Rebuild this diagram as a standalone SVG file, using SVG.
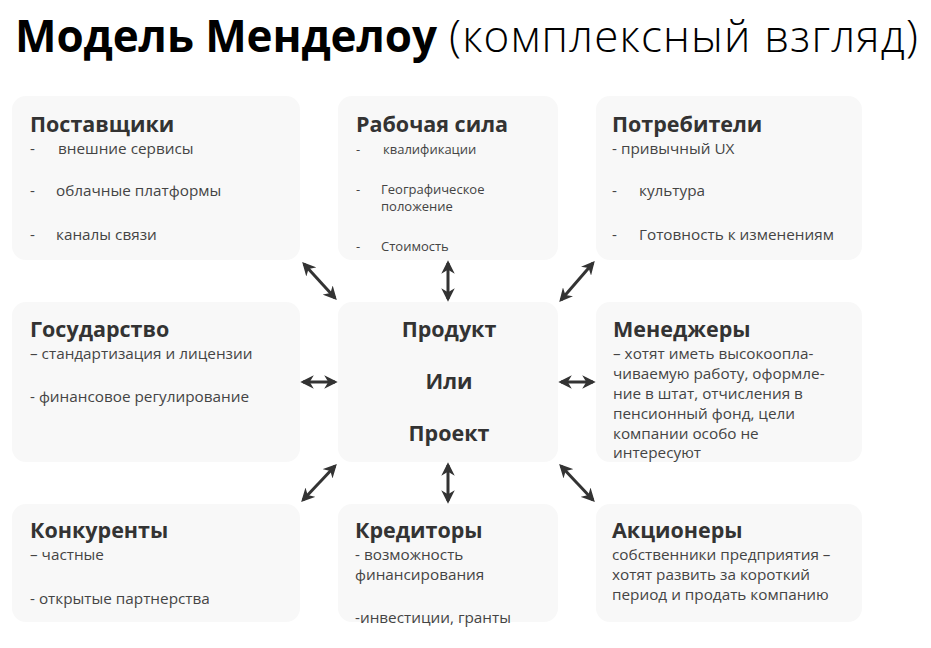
<svg xmlns="http://www.w3.org/2000/svg" width="931" height="648" viewBox="0 0 931 648">
<style>
.box{fill:#f8f8f8}
.h{font-family:"Open Sans","Noto Sans",sans-serif;font-weight:700;font-size:21.5px;fill:#333}
.t{font-family:"Open Sans","Noto Sans",sans-serif;font-size:15.3px;fill:#444}
.s{font-family:"Open Sans","Noto Sans",sans-serif;font-size:13px;fill:#444}
.c{text-anchor:middle}
.ar{stroke:#333;stroke-width:3;fill:none;marker-start:url(#ah);marker-end:url(#ah)}
</style>
<defs>
<marker id="ah" viewBox="0 0 10 10" refX="8" refY="5" markerWidth="4.5" markerHeight="4.5" orient="auto-start-reverse" markerUnits="strokeWidth">
<path d="M0,0 L10,5 L0,10 L3,5 Z" fill="#333"/>
</marker>
</defs>
<rect width="931" height="648" fill="#fff"/>
<text x="15" y="52" font-family="'Open Sans','Noto Sans',sans-serif" font-size="44" fill="#000" font-weight="700" textLength="422">Модель Менделоу</text>
<text x="449" y="52" font-family="'Open Sans','Noto Sans',sans-serif" font-size="44" fill="#000" font-weight="300" textLength="469">(комплексный взгляд)</text>

<g id="suppliers">
<rect class="box" x="12" y="96" width="288" height="164" rx="14"/>
<text class="h" x="30" y="132">Поставщики</text>
<text class="t" x="30" y="154">-</text><text class="t" x="58" y="154">внешние сервисы</text>
<text class="t" x="30" y="196">-</text><text class="t" x="56" y="196">облачные платформы</text>
<text class="t" x="30" y="240">-</text><text class="t" x="56" y="240">каналы связи</text>
</g>
<g id="labor">
<rect class="box" x="338" y="96" width="220" height="164" rx="14"/>
<text class="h" x="356" y="132">Рабочая сила</text>
<text class="s" x="356" y="154">-</text><text class="s" x="383" y="154">квалификации</text>
<text class="s" x="356" y="194">-</text><text class="s" x="381" y="194">Географическое</text>
<text class="s" x="381" y="211">положение</text>
<text class="s" x="356" y="251">-</text><text class="s" x="381" y="251">Стоимость</text>
</g>
<g id="consumers">
<rect class="box" x="596" y="96" width="266" height="164" rx="14"/>
<text class="h" x="612" y="132">Потребители</text>
<text class="t" x="612" y="154">- привычный UX</text>
<text class="t" x="612" y="196">-</text><text class="t" x="639" y="196">культура</text>
<text class="t" x="612" y="240">-</text><text class="t" x="639" y="240">Готовность к изменениям</text>
</g>
<g id="state">
<rect class="box" x="12" y="302" width="288" height="160" rx="14"/>
<text class="h" x="30" y="337">Государство</text>
<text class="t" x="30" y="359">– стандартизация и лицензии</text>
<text class="t" x="30" y="402">- финансовое регулирование</text>
</g>
<g id="product">
<rect class="box" x="338" y="302" width="220" height="160" rx="14"/>
<text class="h c" x="449" y="337">Продукт</text>
<text class="h c" x="449" y="389">Или</text>
<text class="h c" x="449" y="441">Проект</text>
</g>
<g id="managers">
<rect class="box" x="596" y="302" width="266" height="160" rx="14"/>
<text class="h" x="613" y="337">Менеджеры</text>
<text class="t" x="613" y="359">– хотят иметь высокоопла-</text>
<text class="t" x="613" y="379">чиваемую работу, оформле-</text>
<text class="t" x="613" y="399">ние в штат, отчисления в</text>
<text class="t" x="613" y="419">пенсионный фонд, цели</text>
<text class="t" x="613" y="439">компании особо не</text>
<text class="t" x="613" y="458">интересуют</text>
</g>
<g id="competitors">
<rect class="box" x="12" y="504" width="288" height="118" rx="14"/>
<text class="h" x="30" y="538">Конкуренты</text>
<text class="t" x="30" y="560">– частные</text>
<text class="t" x="30" y="604">- открытые партнерства</text>
</g>
<g id="creditors">
<rect class="box" x="338" y="504" width="220" height="118" rx="14"/>
<text class="h" x="355" y="538">Кредиторы</text>
<text class="t" x="355" y="560">- возможность</text>
<text class="t" x="355" y="580">финансирования</text>
<text class="t" x="355" y="623">-инвестиции, гранты</text>
</g>
<g id="shareholders">
<rect class="box" x="596" y="504" width="266" height="118" rx="14"/>
<text class="h" x="612" y="538">Акционеры</text>
<text class="t" x="612" y="560">собственники предприятия –</text>
<text class="t" x="612" y="580">хотят развить за короткий</text>
<text class="t" x="612" y="600">период и продать компанию</text>
</g>

<g id="connectors">
<line class="ar" x1="304" y1="264" x2="335" y2="298"/>
<line class="ar" x1="448" y1="263" x2="448" y2="299"/>
<line class="ar" x1="593" y1="263" x2="561" y2="300"/>
<line class="ar" x1="303" y1="382" x2="335" y2="382"/>
<line class="ar" x1="561" y1="382" x2="593" y2="382"/>
<line class="ar" x1="335" y1="466" x2="303" y2="500"/>
<line class="ar" x1="448" y1="465" x2="448" y2="501"/>
<line class="ar" x1="561" y1="466" x2="593" y2="500"/>
</g>
</svg>
